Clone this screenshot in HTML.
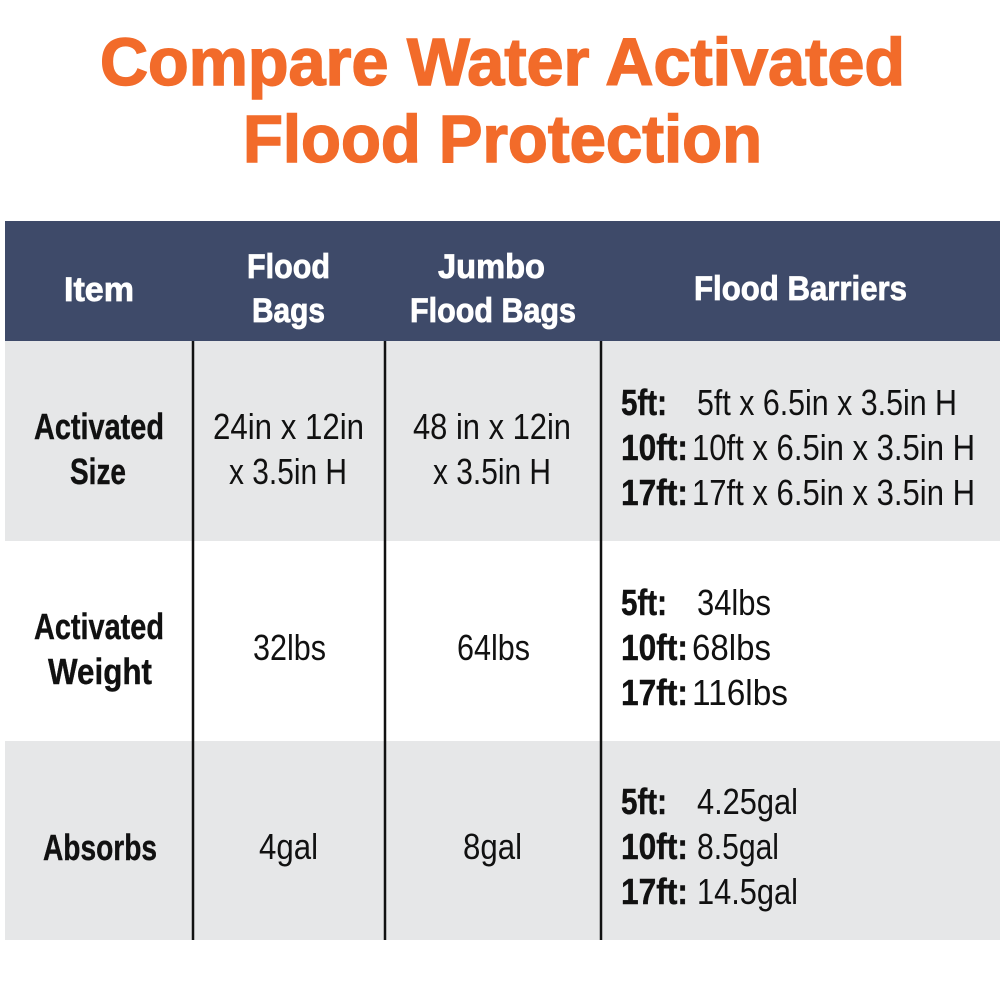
<!DOCTYPE html>
<html><head><meta charset="utf-8"><style>html,body{margin:0;padding:0;background:#fff}svg{display:block}</style></head>
<body>
<svg width="1000" height="1000" viewBox="0 0 1000 1000" xmlns="http://www.w3.org/2000/svg" font-family="Liberation Sans, sans-serif">
<rect width="1000" height="1000" fill="#fff"/>
<g fill="#f26b2a" stroke="#f26b2a" stroke-width="1.5" font-weight="bold" font-size="67">
<text x="100" y="85" textLength="805" lengthAdjust="spacingAndGlyphs">Compare Water Activated</text>
<text x="243" y="162" textLength="519" lengthAdjust="spacingAndGlyphs">Flood Protection</text>
</g>
<rect x="5" y="221" width="995" height="120" fill="#3e4a69"/>
<rect x="5" y="341" width="995" height="200" fill="#e6e7e8"/>
<rect x="5" y="741" width="995" height="199" fill="#e6e7e8"/>
<g stroke="#111" stroke-width="2.5">
<line x1="193" y1="341" x2="193" y2="940"/>
<line x1="385" y1="341" x2="385" y2="940"/>
<line x1="601" y1="341" x2="601" y2="940"/>
</g>
<g fill="#fff" stroke="#fff" stroke-width="0.8" font-weight="bold" font-size="34">
<text x="64" y="301" textLength="70" lengthAdjust="spacingAndGlyphs">Item</text>
<text x="247" y="278" textLength="83" lengthAdjust="spacingAndGlyphs">Flood</text>
<text x="252" y="322" textLength="73" lengthAdjust="spacingAndGlyphs">Bags</text>
<text x="438" y="278" textLength="107" lengthAdjust="spacingAndGlyphs">Jumbo</text>
<text x="410" y="322" textLength="166" lengthAdjust="spacingAndGlyphs">Flood Bags</text>
<text x="694" y="300" textLength="213" lengthAdjust="spacingAndGlyphs">Flood Barriers</text>
</g>
<g fill="#111" stroke="#111" stroke-width="0.4" font-weight="bold" font-size="36">
<text x="34" y="439" textLength="130" lengthAdjust="spacingAndGlyphs">Activated</text>
<text x="70" y="484" textLength="56" lengthAdjust="spacingAndGlyphs">Size</text>
<text x="34" y="639" textLength="130" lengthAdjust="spacingAndGlyphs">Activated</text>
<text x="48" y="684" textLength="104" lengthAdjust="spacingAndGlyphs">Weight</text>
<text x="43" y="860" textLength="114" lengthAdjust="spacingAndGlyphs">Absorbs</text>
<text x="621" y="415" textLength="46" lengthAdjust="spacingAndGlyphs">5ft:</text>
<text x="621" y="460" textLength="67" lengthAdjust="spacingAndGlyphs">10ft:</text>
<text x="621" y="505" textLength="67" lengthAdjust="spacingAndGlyphs">17ft:</text>
<text x="621" y="615" textLength="46" lengthAdjust="spacingAndGlyphs">5ft:</text>
<text x="621" y="660" textLength="67" lengthAdjust="spacingAndGlyphs">10ft:</text>
<text x="621" y="705" textLength="67" lengthAdjust="spacingAndGlyphs">17ft:</text>
<text x="621" y="814" textLength="46" lengthAdjust="spacingAndGlyphs">5ft:</text>
<text x="621" y="859" textLength="67" lengthAdjust="spacingAndGlyphs">10ft:</text>
<text x="621" y="904" textLength="67" lengthAdjust="spacingAndGlyphs">17ft:</text>
</g>
<g fill="#111" font-size="36">
<text x="213" y="439" textLength="151" lengthAdjust="spacingAndGlyphs">24in x 12in</text>
<text x="229" y="484" textLength="118" lengthAdjust="spacingAndGlyphs">x 3.5in H</text>
<text x="413" y="439" textLength="158" lengthAdjust="spacingAndGlyphs">48 in x 12in</text>
<text x="433" y="484" textLength="118" lengthAdjust="spacingAndGlyphs">x 3.5in H</text>
<text x="697" y="415" textLength="260" lengthAdjust="spacingAndGlyphs">5ft x 6.5in x 3.5in H</text>
<text x="692" y="460" textLength="283" lengthAdjust="spacingAndGlyphs">10ft x 6.5in x 3.5in H</text>
<text x="692" y="505" textLength="283" lengthAdjust="spacingAndGlyphs">17ft x 6.5in x 3.5in H</text>
<text x="253" y="660" textLength="73" lengthAdjust="spacingAndGlyphs">32lbs</text>
<text x="457" y="660" textLength="73" lengthAdjust="spacingAndGlyphs">64lbs</text>
<text x="697" y="615" textLength="74" lengthAdjust="spacingAndGlyphs">34lbs</text>
<text x="692" y="660" textLength="79" lengthAdjust="spacingAndGlyphs">68lbs</text>
<text x="692" y="705" textLength="96" lengthAdjust="spacingAndGlyphs">116lbs</text>
<text x="259" y="859" textLength="59" lengthAdjust="spacingAndGlyphs">4gal</text>
<text x="463" y="859" textLength="59" lengthAdjust="spacingAndGlyphs">8gal</text>
<text x="697" y="814" textLength="101" lengthAdjust="spacingAndGlyphs">4.25gal</text>
<text x="697" y="859" textLength="82" lengthAdjust="spacingAndGlyphs">8.5gal</text>
<text x="697" y="904" textLength="101" lengthAdjust="spacingAndGlyphs">14.5gal</text>
</g>
</svg>
</body></html>
